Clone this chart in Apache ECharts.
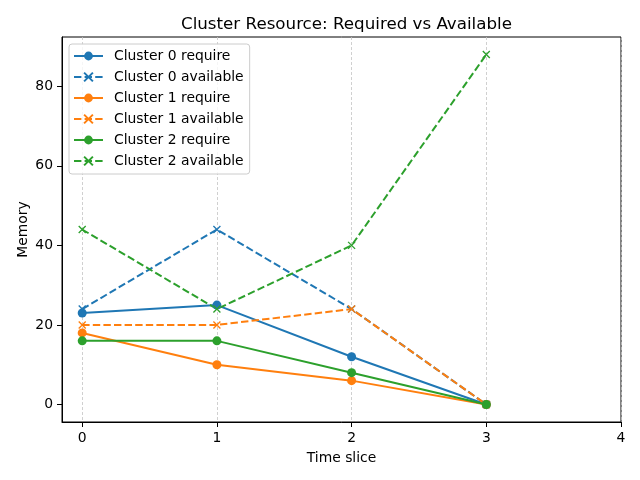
<!DOCTYPE html>
<html><head><meta charset="utf-8">
<script src="https://cdn.jsdelivr.net/npm/echarts@6/dist/echarts.min.js"></script>
<style>html,body{margin:0;padding:0;background:#fff}#c{width:640px;height:480px}</style>
</head><body><div id="c"></div>
<script>
const timeSlices = [0, 1, 2, 3];
const xTicks = [0, 1, 2, 3, 4];
const yTicks = [0, 20, 40, 60, 80];
const c0Require = [23, 25, 12, 0];
const c0Available = [24, 44, 24, 0];
const c1Require = [18, 10, 6, 0];
const c1Available = [20, 20, 24, 0];
const c2Require = [16, 16, 8, 0];
const c2Available = [44, 24, 40, 88];

const colors = ['#1f77b4', '#ff7f0e', '#2ca02c'];
const xPath = 'path://M0,0L10,10M10,0L0,10';
const font = 'DejaVu Sans';

function mk(name, vals, color, avail) {
  return {
    name: name, type: 'line',
    data: vals.map((v, i) => [timeSlices[i], v]),
    symbol: avail ? xPath : 'circle',
    symbolSize: avail ? 7 : 9,
    lineStyle: { color: color, width: 2, type: avail ? [7.4, 3.2] : 'solid' },
    itemStyle: avail ? { color: 'rgba(0,0,0,0)', borderColor: color, borderWidth: 1.3 } : { color: color, borderWidth: 0 },
    showAllSymbol: true, animation: false, z: 3
  };
}

const series = [
  mk('Cluster 0 require', c0Require, colors[0], false),
  mk('Cluster 0 available', c0Available, colors[0], true),
  mk('Cluster 1 require', c1Require, colors[1], false),
  mk('Cluster 1 available', c1Available, colors[1], true),
  mk('Cluster 2 require', c2Require, colors[2], false),
  mk('Cluster 2 available', c2Available, colors[2], true)
];

const chart = echarts.init(document.getElementById('c'), null, { renderer: 'canvas' });
chart.setOption({
  animation: false,
  backgroundColor: '#fff',
  title: {
    text: 'Cluster Resource: Required vs Available',
    left: 176, top: 11,
    textStyle: { fontFamily: font, fontSize: 16.7, fontWeight: 'normal', color: '#000' }
  },
  grid: { left: 62, right: 19, top: 37, bottom: 58, show: true, borderColor: '#000', borderWidth: 1, backgroundColor: 'transparent' },
  legend: {
    orient: 'vertical', left: 69, top: 44,
    padding: [4, 6, 5, 4], itemGap: 5, itemWidth: 29, itemHeight: 11,
    borderColor: '#cccccc', borderWidth: 1, borderRadius: 3,
    backgroundColor: 'rgba(255,255,255,0.8)',
    textStyle: { fontFamily: font, fontSize: 13.9, lineHeight: 16, color: '#000', padding: [0, 0, 0, 6] },
    data: series.map(s => s.name)
  },
  xAxis: {
    type: 'value', min: -0.15, max: 4,
    name: 'Time slice', nameLocation: 'middle', nameGap: 29, nameMoveOverlap: false,
    nameTextStyle: { fontFamily: font, fontSize: 13.9, color: '#000' },
    axisLine: { show: true, onZero: false, lineStyle: { color: '#000', width: 1 } },
    axisTick: { show: true, length: 5, customValues: xTicks, lineStyle: { color: '#000' } },
    axisLabel: { customValues: xTicks, margin: 9, fontFamily: font, fontSize: 13.9, color: '#000' },
    splitLine: { show: true, lineStyle: { color: '#c4c4c4', type: [3, 2], width: 0.8 } }
  },
  yAxis: {
    type: 'value', min: -4.4, max: 92.4,
    name: 'Memory', nameLocation: 'middle', nameGap: 32, nameRotate: 90, nameMoveOverlap: false,
    nameTextStyle: { fontFamily: font, fontSize: 13.9, color: '#000' },
    axisLine: { show: true, onZero: false, lineStyle: { color: '#000', width: 1 } },
    axisTick: { show: true, length: 5, customValues: yTicks, lineStyle: { color: '#000' } },
    axisLabel: { customValues: yTicks, margin: 9, fontFamily: font, fontSize: 13.9, color: '#000' },
    splitLine: { show: false }
  },
  series: series
});
</script></body></html>
